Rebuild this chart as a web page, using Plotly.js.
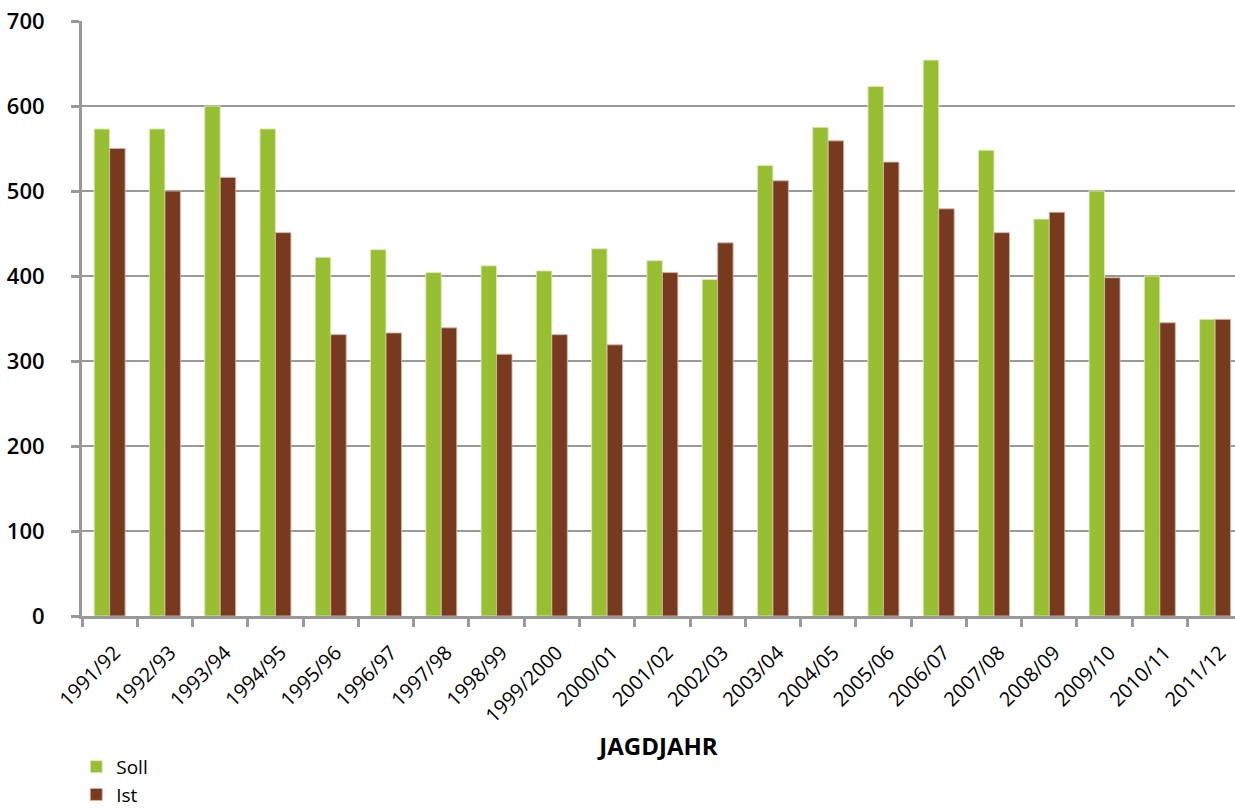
<!DOCTYPE html>
<html>
<head>
<meta charset="utf-8">
<script src="https://cdn.plot.ly/plotly-3.0.1.min.js"></script>
<style>
html,body{margin:0;padding:0;background:#fff;}
#chart{width:1235px;height:808px;}
</style>
</head>
<body>
<div id="chart"></div>
<script>
const categories = ["1991/92","1992/93","1993/94","1994/95","1995/96","1996/97","1997/98","1998/99","1999/2000","2000/01","2001/02","2002/03","2003/04","2004/05","2005/06","2006/07","2007/08","2008/09","2009/10","2010/11","2011/12"];
const soll = [573,573,600,573,422,431,404,412,406,432,418,396,530,575,623,654,548,467,500,400,349];
const ist  = [550,500,516,451,331,333,339,308,331,319,404,439,512,559,534,479,451,475,398,345,349];
const yTicks = [0,100,200,300,400,500,600,700];

const FONT = "Open Sans, Noto Sans, sans-serif";

const traces = [
  {type:"bar", name:"Soll", x:categories, y:soll,
   marker:{color:"#98BE32", line:{color:"rgba(220,235,190,0.9)", width:1}}},
  {type:"bar", name:"Ist", x:categories, y:ist,
   marker:{color:"#783A1E", line:{color:"rgba(210,180,165,0.9)", width:1}}}
];

const layout = {
  width:1235, height:808,
  margin:{l:82, r:0, t:21, b:192, autoexpand:false},
  paper_bgcolor:"#fff", plot_bgcolor:"#fff",
  barmode:"group", bargap:0.44, bargroupgap:0,
  font:{family:FONT, color:"#000"},
  xaxis:{
    type:"category", range:[-0.5, 20.36], automargin:false,
    tickson:"boundaries", ticks:"outside", ticklen:8, tickwidth:3, tickcolor:"#999",
    showline:true, linecolor:"#999", linewidth:3,
    showgrid:false, tickangle:-45, ticklabelshift:5, ticklabelstandoff:14,
    tickfont:{family:FONT, size:20, color:"#000"},
    title:{text:"<b>JAGDJAHR</b>", font:{family:FONT, size:24, color:"#000"}, standoff:12}
  },
  yaxis:{
    range:[0,700], tickvals:yTicks, ticktext:yTicks.map(String), automargin:false,
    ticks:"outside", ticklen:8, tickwidth:3, tickcolor:"#999",
    showline:true, linecolor:"#999", linewidth:3,
    showgrid:true, gridcolor:"#999", gridwidth:2, zeroline:false,
    ticklabelstandoff:22,
    tickfont:{family:FONT, size:22, color:"#000", weight:600}
  },
  showlegend:true,
  legend:{x:-0.005, xanchor:"left", y:-0.2216, yanchor:"top", orientation:"v",
    font:{family:FONT, size:19, color:"#000"}, bgcolor:"rgba(0,0,0,0)", tracegroupgap:0}
};

Plotly.newPlot("chart", traces, layout, {displayModeBar:false, staticPlot:true});
</script>
</body>
</html>
